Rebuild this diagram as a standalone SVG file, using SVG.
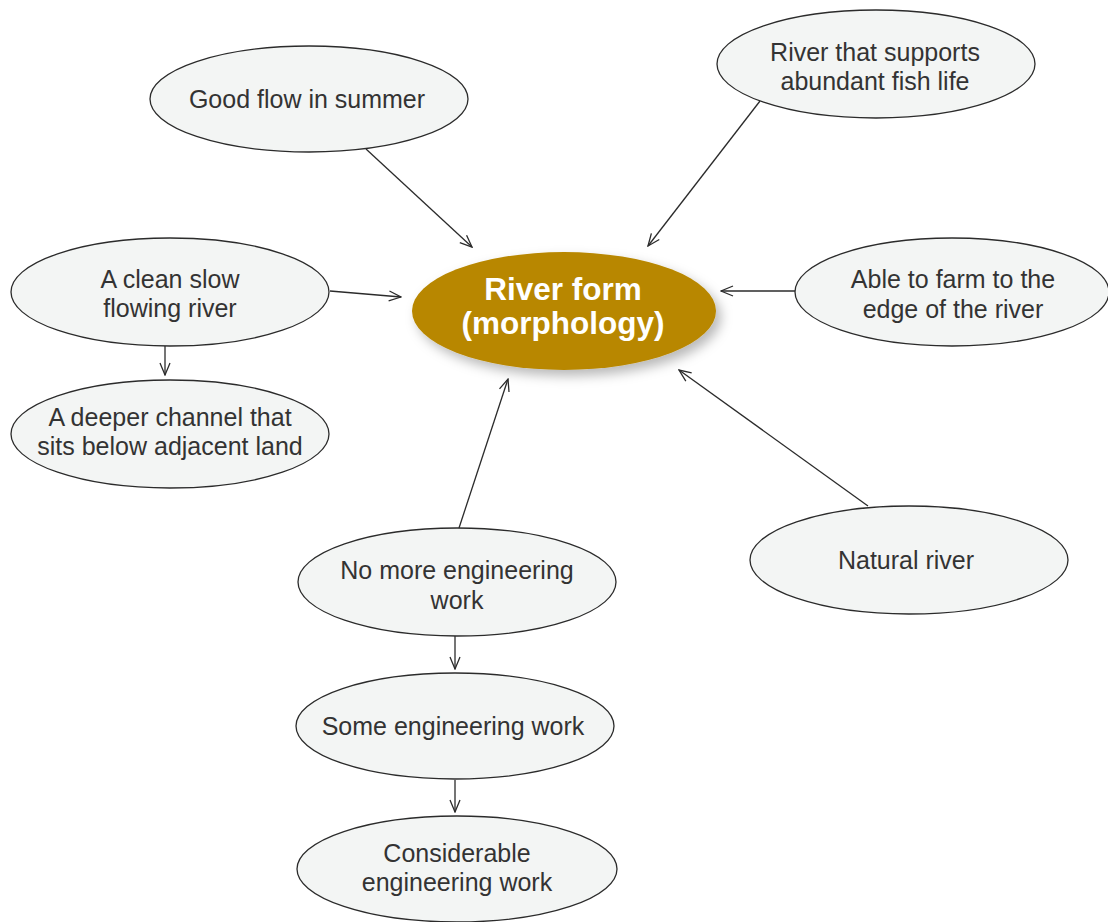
<svg xmlns="http://www.w3.org/2000/svg" width="1108" height="922" viewBox="0 0 1108 922">
<style>
.n ellipse{fill:#f3f5f4;stroke:#2b2b2b;stroke-width:1.3}
.n text{font-family:"Liberation Sans",Arial,sans-serif;font-size:25px;fill:#333;text-anchor:middle}
.c line{stroke:#2b2b2b;stroke-width:1.3;fill:none;marker-end:url(#ah)}
.hub text{font-family:"Liberation Sans",Arial,sans-serif;font-size:31.5px;font-weight:bold;fill:#fff;text-anchor:middle}
</style>
<defs>
<marker id="ah" viewBox="0 0 14 12" refX="13" refY="6" markerWidth="14" markerHeight="12" markerUnits="userSpaceOnUse" orient="auto">
<path d="M1,1 L13,6 L1,11" fill="none" stroke="#2b2b2b" stroke-width="1.3"/>
</marker>
<filter id="sh" x="-20%" y="-30%" width="150%" height="170%">
<feDropShadow dx="5" dy="6" stdDeviation="6" flood-color="#000" flood-opacity="0.28"/>
</filter>
</defs>
<rect width="1108" height="922" fill="#fff"/>
<g class="c" id="connectors">
<line x1="366" y1="149" x2="472" y2="247"/>
<line x1="760" y1="101" x2="648" y2="246"/>
<line x1="330" y1="291" x2="401" y2="297"/>
<line x1="795" y1="291" x2="721" y2="291"/>
<line x1="868" y1="506" x2="679" y2="370"/>
<line x1="459" y1="528" x2="508" y2="379"/>
<line x1="165" y1="346" x2="165" y2="375"/>
<line x1="455" y1="636" x2="455" y2="669"/>
<line x1="455" y1="780" x2="455" y2="812"/>
</g>
<g id="hub" class="hub">
<ellipse cx="564" cy="311" rx="152" ry="59" fill="#b88700" filter="url(#sh)"/>
<text x="563" y="300">River form</text>
<text x="563" y="334">(morphology)</text>
</g>
<g id="good-flow" class="n"><ellipse cx="309" cy="99" rx="159" ry="53"/><text x="307" y="108">Good flow in summer</text></g>
<g id="fish" class="n"><ellipse cx="876" cy="64" rx="159" ry="54"/><text x="875" y="61">River that supports</text><text x="875" y="90">abundant fish life</text></g>
<g id="clean" class="n"><ellipse cx="170" cy="292" rx="159" ry="54"/><text x="170" y="288">A clean slow</text><text x="170" y="317">flowing river</text></g>
<g id="farm" class="n"><ellipse cx="952" cy="292" rx="157" ry="54"/><text x="953" y="288">Able to farm to the</text><text x="953" y="318">edge of the river</text></g>
<g id="deeper" class="n"><ellipse cx="170" cy="434" rx="159" ry="54"/><text x="170" y="426">A deeper channel that</text><text x="170" y="455">sits below adjacent land</text></g>
<g id="natural" class="n"><ellipse cx="909" cy="560" rx="159" ry="54"/><text x="906" y="569">Natural river</text></g>
<g id="no-more" class="n"><ellipse cx="457" cy="582" rx="159" ry="54"/><text x="457" y="579">No more engineering</text><text x="457" y="609">work</text></g>
<g id="some" class="n"><ellipse cx="455" cy="726" rx="159" ry="53"/><text x="453" y="735">Some engineering work</text></g>
<g id="considerable" class="n"><ellipse cx="457" cy="869" rx="160" ry="53"/><text x="457" y="862">Considerable</text><text x="457" y="891">engineering work</text></g>
</svg>
